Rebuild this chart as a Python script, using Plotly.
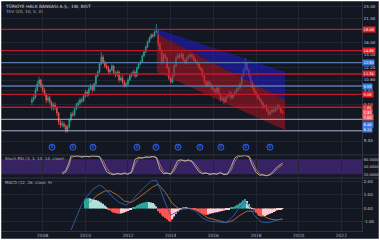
import numpy as np
import pandas as pd
import plotly.graph_objects as go

# ---------------- data ----------------
months = pd.date_range("2007-07-01", "2019-04-01", freq="MS")

closes = [
    8.51, 8.79, 9.50, 10.15, 10.61, 9.93,
    9.50, 9.09, 8.51, 8.70, 8.32, 7.79, 8.05, 7.79, 7.37, 6.67, 6.46, 6.52,
    6.38, 6.04, 6.31, 6.82, 7.29, 7.21, 7.70, 8.05, 8.23, 8.51, 8.41, 8.89,
    9.29, 8.99, 9.61, 9.93, 9.50, 10.15, 11.10, 11.60, 12.67, 13.69, 12.95, 12.39,
    12.12, 11.60, 11.86, 12.39, 11.47, 11.22, 11.60, 10.61, 10.85, 10.38, 9.93, 10.15,
    10.61, 11.10, 11.34, 11.60, 11.10, 12.12, 12.67, 12.95, 13.84, 14.47, 15.29, 16.16,
    16.89, 17.46, 17.26, 18.04, 18.25, 15.80, 14.79, 12.95, 13.99, 13.54, 12.12, 10.85,
    10.38, 11.10, 12.39, 13.54, 13.99, 13.69, 14.15, 13.24, 12.81, 13.54, 13.84, 13.99,
    13.69, 13.24, 12.95, 12.67, 12.12, 11.86, 11.10, 10.38, 9.93, 10.38, 10.04, 9.71,
    9.50, 9.29, 9.71, 9.09, 8.51, 8.70, 8.32, 8.79, 8.89, 9.19, 8.70, 8.99,
    9.29, 9.50, 9.71, 10.15, 11.10, 11.86, 12.81, 11.86, 11.10, 10.38, 9.71, 9.29,
    8.99, 8.70, 8.51, 8.23, 7.87, 7.96, 7.62, 7.29, 7.45, 7.62, 7.53, 7.79,
    7.96, 7.79, 7.45, 7.37,
]
first_open = 8.30
highs = [
    8.80, 9.05, 9.75, 10.50, 11.00, 10.75,
    10.20, 9.70, 9.20, 8.95, 8.90, 8.45, 8.25, 8.30, 7.95, 7.45, 6.85, 6.75,
    6.70, 6.50, 6.45, 6.95, 7.45, 7.50, 7.85, 8.25, 8.45, 8.70, 8.75, 9.05,
    9.50, 9.45, 9.80, 10.20, 10.10, 10.35, 11.30, 11.85, 12.90, 14.47, 14.00, 13.20,
    12.80, 12.40, 12.05, 12.70, 12.55, 11.70, 11.85, 11.80, 11.15, 11.20, 10.60, 10.40,
    10.85, 11.35, 11.55, 11.90, 11.80, 12.30, 12.90, 13.20, 14.05, 14.70, 15.55, 16.40,
    17.20, 17.80, 17.75, 18.40, 19.71, 18.40, 16.10, 14.95, 14.25, 14.30, 13.75, 12.35,
    11.05, 11.30, 12.60, 13.80, 14.30, 14.25, 14.50, 14.30, 13.45, 13.75, 14.10, 14.25,
    14.30, 13.95, 13.45, 13.20, 12.85, 12.35, 12.05, 11.30, 10.55, 10.60, 10.55, 10.20,
    9.90, 9.70, 9.90, 9.85, 9.25, 8.90, 8.85, 8.95, 9.05, 9.40, 9.35, 9.15,
    9.45, 9.70, 9.90, 10.35, 11.30, 12.10, 13.54, 12.95, 12.05, 11.30, 10.55, 9.90,
    9.45, 9.15, 8.85, 8.65, 8.35, 8.10, 8.10, 7.75, 7.60, 7.80, 7.80, 7.95,
    8.14, 8.10, 7.90, 7.60,
]
lows = [
    8.05, 8.35, 8.60, 9.30, 9.95, 9.70,
    9.25, 8.90, 8.20, 8.30, 8.10, 7.60, 7.55, 7.60, 7.15, 6.45, 6.25, 6.30,
    6.20, 5.91, 5.95, 6.20, 6.70, 7.05, 7.10, 7.60, 7.90, 8.05, 8.20, 8.30,
    8.70, 8.80, 8.85, 9.45, 9.20, 9.35, 10.00, 10.90, 11.45, 12.50, 12.70, 12.10,
    11.85, 11.30, 11.30, 11.70, 11.25, 10.95, 11.00, 10.30, 10.45, 10.10, 9.75, 9.80,
    9.95, 10.45, 10.90, 11.15, 10.85, 10.95, 11.95, 12.50, 12.80, 13.65, 14.30, 15.10,
    15.95, 16.65, 16.90, 17.05, 17.80, 15.40, 14.40, 12.60, 12.80, 13.30, 11.95, 10.60,
    10.20, 10.25, 11.00, 12.25, 13.35, 13.40, 13.50, 13.05, 12.60, 12.65, 13.35, 13.60,
    13.45, 13.00, 12.75, 12.45, 11.90, 11.65, 10.90, 10.15, 9.75, 9.80, 9.85, 9.50,
    9.30, 9.10, 9.10, 8.95, 8.35, 8.40, 8.15, 8.25, 8.65, 8.75, 8.55, 8.60,
    8.85, 9.15, 9.35, 9.55, 10.00, 10.95, 11.70, 11.65, 10.90, 10.20, 9.55, 9.10,
    8.80, 8.55, 8.35, 8.05, 7.70, 7.75, 7.45, 7.13, 7.15, 7.35, 7.35, 7.45,
    7.60, 7.65, 7.35, 7.25,
]
opens = [first_open] + closes[:-1]

# drawn regression-style channel (start / end anchors)
channel_dates = ["2013-05-10", "2019-05-12"]
channel_upper = [18.65, 11.60]
channel_mid = [17.65, 8.51]
channel_lower = [11.60, 6.11]

# horizontal levels
red_levels = [18.58, 14.68, 11.34, 9.06, 7.85]
blue_levels = [12.85, 9.93]
light_levels = [6.87, 6.05]

# price-scale tags
tag_values = [18.58, 14.68, 12.85, 11.34, 9.93, 9.06, 7.85, 7.37, 7.00, 6.46, 6.11]
tag_kinds = ["r", "r", "b", "r", "b", "r", "r", "p", "p", "b", "b"]

price_ticks = [24.0, 21.0, 16.0, 14.0, 12.2, 10.6, 9.4, 8.1, 5.4]

# dividend markers
div_dates = ["2008-06-09", "2009-06-03", "2010-05-12", "2012-06-03", "2013-04-23",
             "2014-05-06", "2015-05-16", "2016-05-09", "2017-07-12", "2018-08-27"]
div_level = 5.05

# Stoch RSI
stoch_dates = ["2008-12", "2009-02", "2009-04", "2009-05", "2009-07", "2009-09", "2009-11",
               "2010-01", "2010-03", "2010-05", "2010-07", "2010-09", "2010-11",
               "2011-01", "2011-03", "2011-05", "2011-07", "2011-09", "2011-11",
               "2012-01", "2012-03", "2012-05", "2012-07", "2012-09", "2012-11",
               "2013-01", "2013-03", "2013-05", "2013-07", "2013-09", "2013-11",
               "2014-01", "2014-03", "2014-05", "2014-07", "2014-09", "2014-11",
               "2015-01", "2015-03", "2015-05", "2015-07", "2015-09", "2015-11",
               "2016-01", "2016-03", "2016-05", "2016-07", "2016-09", "2016-11",
               "2017-01", "2017-03", "2017-05", "2017-07", "2017-09", "2017-11",
               "2018-01", "2018-03", "2018-05", "2018-07", "2018-09", "2018-11",
               "2019-01", "2019-04"]
stoch_k = [25, 35, 70, 95, 92, 94, 88, 93, 90, 94, 92, 90, 60, 30, 22, 18, 24, 20, 26,
           20, 30, 80, 88, 85, 90, 88, 92, 86, 40, 22, 25, 20, 45, 75, 78, 72, 78,
           70, 50, 30, 22, 26, 18, 24, 20, 28, 18, 22, 50, 85, 95, 93, 96, 90, 55,
           28, 16, 18, 14, 20, 35, 50, 65]
stoch_d = [20, 28, 55, 85, 93, 92, 91, 90, 91, 92, 93, 91, 75, 45, 27, 21, 21, 22, 23,
           22, 25, 60, 84, 86, 88, 89, 90, 89, 60, 30, 24, 22, 33, 62, 76, 75, 76,
           74, 60, 40, 26, 24, 22, 21, 22, 24, 22, 20, 35, 70, 90, 94, 94, 93, 70,
           40, 22, 17, 16, 17, 27, 42, 58]

# MACD
hist_dates = pd.date_range("2010-01-01", "2019-04-01", freq="MS")
hist_values = [
    0.70, 0.75, 0.78, 0.74, 0.70, 0.66, 0.62, 0.58, 0.52, 0.45, 0.35, 0.22,
    0.10, -0.05, -0.15, -0.24, -0.30, -0.34, -0.38, -0.40, -0.38, -0.34, -0.30, -0.24,
    -0.18, -0.12, -0.06, 0.05, 0.12, 0.20, 0.28, 0.34, 0.40, 0.44, 0.48, 0.50,
    0.48, 0.45, 0.40, 0.30, 0.15, -0.20, -0.35, -0.50, -0.60, -0.70, -0.82, -0.92,
    -0.98, -0.80, -0.60, -0.40, -0.25, -0.12, -0.05, 0.04, 0.06, 0.05, 0.03, 0.02,
    -0.02, -0.05, -0.10, -0.18, -0.25, -0.32, -0.38, -0.45, -0.48, -0.45, -0.40, -0.36,
    -0.34, -0.30, -0.28, -0.25, -0.22, -0.18, -0.15, -0.11, -0.08, -0.04, 0.05, 0.10,
    0.15, 0.22, 0.30, 0.40, 0.50, 0.60, 0.70, 0.55, 0.32, 0.12, 0.03, -0.12,
    -0.30, -0.45, -0.55, -0.60, -0.58, -0.55, -0.50, -0.45, -0.40, -0.34, -0.27, -0.20,
    -0.13, -0.08, -0.05, -0.03,
]
macd_dates = ["2009-05", "2009-08", "2009-11", "2010-02", "2010-05", "2010-09", "2010-12",
              "2011-04", "2011-08", "2011-12", "2012-03", "2012-07", "2012-11", "2013-02",
              "2013-05", "2013-07", "2013-10", "2014-01", "2014-04", "2014-08", "2014-11",
              "2015-03", "2015-07", "2015-11", "2016-04", "2016-08", "2016-12", "2017-04",
              "2017-07", "2017-09", "2017-12", "2018-04", "2018-08", "2018-12", "2019-04"]
macd_values = [-1.6, -0.6, 0.3, 0.9, 1.4, 1.74, 1.5, 0.9, 0.45, 0.25, 0.55, 1.15, 1.7, 2.05,
               2.1, 1.5, 0.4, -0.5, -0.3, 0.0, 0.05, -0.2, -0.7, -0.95, -1.0, -1.05, -0.6,
               0.1, 0.5, 0.2, -0.5, -1.0, -1.05, -0.9, -0.75]
signal_dates = ["2010-01", "2010-04", "2010-08", "2010-12", "2011-03", "2011-07", "2011-11",
                "2012-03", "2012-07", "2012-11", "2013-03", "2013-06", "2013-10", "2014-02",
                "2014-06", "2014-11", "2015-03", "2015-06", "2015-10", "2016-04", "2016-08",
                "2016-12", "2017-04", "2017-08", "2017-12", "2018-04", "2018-08", "2018-12",
                "2019-04"]
signal_values = [0.15, 0.55, 1.0, 1.3, 1.3, 1.0, 0.55, 0.45, 0.8, 1.2, 1.6, 1.8, 1.2, 0.35,
                 -0.05, 0.0, -0.1, -0.35, -0.7, -0.9, -1.05, -0.9, -0.5, -0.2, -0.2, -0.45,
                 -0.75, -0.85, -0.8]

# ---------------- styling ----------------
BG = "#131722"
GRID = "#222633"
SEP = "#2f3441"
TXT = "#b2b5be"
XR = ["2006-01-01", "2022-12-20"]
XD = [0, 362 / 380]

def py(px):
    return 1 - px / 240

fig = go.Figure()

# channel fills
fig.add_trace(go.Scatter(
    x=channel_dates + channel_dates[::-1], y=channel_upper + channel_mid[::-1],
    fill="toself", mode="lines", line=dict(width=0), fillcolor="rgba(30,28,185,0.62)",
    hoverinfo="skip", xaxis="x", yaxis="y"))
fig.add_trace(go.Scatter(
    x=channel_dates + channel_dates[::-1], y=channel_mid + channel_lower[::-1],
    fill="toself", mode="lines", line=dict(width=0), fillcolor="rgba(175,20,35,0.55)",
    hoverinfo="skip", xaxis="x", yaxis="y"))

# horizontal levels
for lv in red_levels:
    fig.add_trace(go.Scatter(x=XR, y=[lv, lv], mode="lines",
                             line=dict(color="#c0182e", width=1.3), xaxis="x", yaxis="y"))
for lv in blue_levels:
    fig.add_trace(go.Scatter(x=XR, y=[lv, lv], mode="lines",
                             line=dict(color="#5a7aa8", width=1.3), xaxis="x", yaxis="y"))
for lv in light_levels:
    fig.add_trace(go.Scatter(x=XR, y=[lv, lv], mode="lines",
                             line=dict(color="#a9b4cc", width=1), xaxis="x", yaxis="y"))

# candles
fig.add_trace(go.Candlestick(
    x=months, open=opens, high=highs, low=lows, close=closes,
    increasing=dict(line=dict(color="#26a69a", width=0.7), fillcolor="#26a69a"),
    decreasing=dict(line=dict(color="#ef5350", width=0.7), fillcolor="#ef5350"),
    whiskerwidth=0, xaxis="x", yaxis="y"))

# dividend markers
fig.add_trace(go.Scatter(
    x=div_dates, y=[div_level] * len(div_dates), mode="markers+text", text=["D"] * len(div_dates),
    textfont=dict(size=3, color="#6f95ff"),
    marker=dict(size=6, color="rgba(41,98,255,0.12)", line=dict(color="#2962ff", width=1)),
    xaxis="x", yaxis="y"))

# stoch
fig.add_trace(go.Scatter(x=stoch_dates, y=stoch_d, mode="lines",
                         line=dict(color="#b07a52", width=0.9), xaxis="x2", yaxis="y2"))
fig.add_trace(go.Scatter(x=stoch_dates, y=stoch_k, mode="lines",
                         line=dict(color="#b9bac2", width=0.9), xaxis="x2", yaxis="y2"))

# macd histogram colors
hcolors = []
prev = 0.0
for v in hist_values:
    if v >= 0:
        hcolors.append("#26a69a" if v >= prev else "#b2dfdb")
    else:
        hcolors.append("#ff5252" if v <= prev else "#ffcdd2")
    prev = v
fig.add_trace(go.Bar(x=hist_dates, y=hist_values, marker=dict(color=hcolors, line=dict(width=0)),
                     xaxis="x3", yaxis="y3"))
fig.add_trace(go.Scatter(x=signal_dates, y=signal_values, mode="lines",
                         line=dict(color="#b56f38", width=0.9), xaxis="x3", yaxis="y3"))
fig.add_trace(go.Scatter(x=macd_dates, y=macd_values, mode="lines",
                         line=dict(color="#2f5fb0", width=0.9), xaxis="x3", yaxis="y3"))

# annotations
ann = []
tag_col = {"r": "#e3242b", "b": "#3c7be0", "p": "#ef5f6b"}
for v, k in zip(tag_values, tag_kinds):
    ann.append(dict(x=XD[1], xref="paper", y=np.log10(v), yref="y", xanchor="left",
                    yanchor="middle", text=f"{v:.2f}", showarrow=False,
                    font=dict(size=3.6, color="#ffffff", family="DejaVu Sans"),
                    bgcolor=tag_col[k], borderpad=0.6))
ann.append(dict(x=0.008, y=py(5.5), xref="paper", yref="paper", xanchor="left", yanchor="middle",
                text="TÜRKİYE HALK BANKASI A.Ş., 1W, BIST", showarrow=False,
                font=dict(size=4.4, color="#d1d4dc", family="DejaVu Sans")))
ann.append(dict(x=0.008, y=py(11.5), xref="paper", yref="paper", xanchor="left", yanchor="middle",
                text="TEV (20, 10, 5, 3)", showarrow=False,
                font=dict(size=4.2, color=TXT, family="DejaVu Sans")))
ann.append(dict(x=0.008, y=py(158.3), xref="paper", yref="paper", xanchor="left", yanchor="middle",
                text="Stoch RSI (3, 3, 14, 14, close)", showarrow=False,
                font=dict(size=4.0, color=TXT, family="DejaVu Sans")))
ann.append(dict(x=0.008, y=py(182.7), xref="paper", yref="paper", xanchor="left", yanchor="middle",
                text="MACD (12, 26, close, 9)", showarrow=False,
                font=dict(size=4.0, color=TXT, family="DejaVu Sans")))

shapes = [
    dict(type="rect", xref="paper", yref="y2", x0=XD[0], x1=XD[1], y0=20, y1=80,
         fillcolor="rgba(105,50,190,0.42)", line=dict(width=0), layer="below"),
    dict(type="line", xref="paper", yref="paper", x0=0, x1=1, y0=py(155), y1=py(155),
         line=dict(color=SEP, width=1)),
    dict(type="line", xref="paper", yref="paper", x0=0, x1=1, y0=py(178), y1=py(178),
         line=dict(color=SEP, width=1)),
    dict(type="rect", xref="paper", yref="paper", x0=0, x1=1, y0=0, y1=1,
         line=dict(color="#ffffff", width=2.5)),
]

axis_common = dict(type="date", range=XR, domain=XD, showgrid=True, gridcolor=GRID,
                   gridwidth=1, dtick="M24", tick0="2008-01-01", zeroline=False)
yfont = dict(size=4, color="#c8cbd3", family="DejaVu Sans")

fig.update_layout(
    width=380, height=240, margin=dict(l=0, r=0, t=0, b=0),
    paper_bgcolor=BG, plot_bgcolor=BG, showlegend=False, bargap=0.15,
    xaxis=dict(**axis_common, anchor="y", showticklabels=False, rangeslider=dict(visible=False)),
    xaxis2=dict(**axis_common, anchor="y2", showticklabels=False, matches="x"),
    xaxis3=dict(**axis_common, anchor="y3", matches="x", showticklabels=True, tickformat="%Y",
                tickfont=dict(size=4.4, color=TXT, family="DejaVu Sans"), ticks="",
                showline=True, linecolor=SEP),
    yaxis=dict(domain=[py(155), py(0)], type="log", range=[np.log10(4.63), np.log10(25.7)],
               side="right", anchor="x", tickvals=price_ticks,
               ticktext=[f"{t:.2f}" for t in price_ticks], tickfont=yfont, ticks="",
               showgrid=True, gridcolor=GRID, showline=True, linecolor=SEP, zeroline=False),
    yaxis2=dict(domain=[py(178), py(155)], range=[5.2, 97.2], side="right", anchor="x2",
                tickvals=[80, 50, 20], ticktext=["80.0000", "50.0000", "20.0000"],
                tickfont=dict(size=3.6, color="#c8cbd3", family="DejaVu Sans"), ticks="",
                showgrid=False, showline=True, linecolor=SEP, zeroline=False),
    yaxis3=dict(domain=[py(231), py(178)], range=[-1.67, 2.26], side="right", anchor="x3",
                tickvals=[2, 1, 0, -1], ticktext=["2.00", "1.00", "0.00", "-1.00"],
                tickfont=yfont, ticks="", showgrid=True, gridcolor=GRID,
                showline=True, linecolor=SEP, zeroline=False),
    annotations=ann, shapes=shapes,
)

fig.write_html("out.html")
